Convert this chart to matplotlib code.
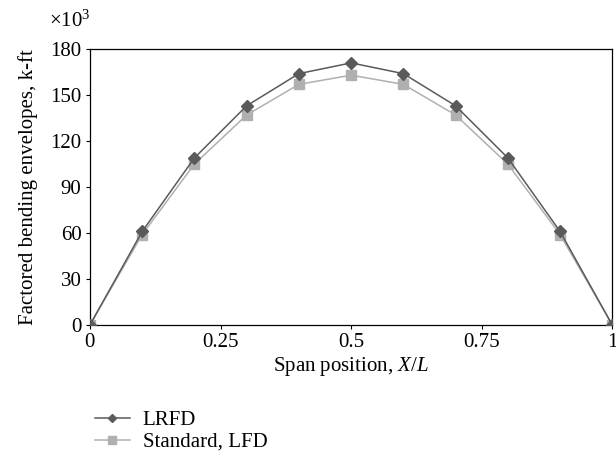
import numpy as np
import matplotlib.pyplot as plt

plt.rcParams['font.family'] = ['Liberation Serif', 'DejaVu Serif']
plt.rcParams['mathtext.fontset'] = 'custom'
plt.rcParams['mathtext.rm'] = 'Liberation Serif'
plt.rcParams['mathtext.it'] = 'Liberation Serif:italic'

# positions along span and envelopes (x 10^3 k-ft)
span = [0, 0.1, 0.2, 0.3, 0.4, 0.5, 0.6, 0.7, 0.8, 0.9, 1.0]
lrfd = [0, 61, 109, 143, 164, 171, 164, 143, 109, 61, 0]
lfd = [0, 59, 105, 137, 157, 163, 157, 137, 105, 59, 0]

fs = 15
fig = plt.figure(figsize=(6.16, 4.59), dpi=100)
ax = fig.add_axes([0.146, 0.292, 0.848, 0.601])

ax.plot(span, lrfd, color='#5a5a5a', lw=1.1, marker='D', ms=6.5,
        label='LRFD', zorder=3)
ax.plot(span, lfd, color='#b0b0b0', lw=1.1, marker='s', ms=7.5,
        label='Standard, LFD', zorder=2)

ax.set_xlim(0, 1)
ax.set_ylim(0, 180)
ax.set_xticks([0, 0.25, 0.5, 0.75, 1])
ax.set_xticklabels(['0', '0.25', '0.5', '0.75', '1'])
ax.set_yticks(np.arange(0, 181, 30))
ax.tick_params(direction='out', length=3, width=0.8, labelsize=fs, pad=3)
for s in ax.spines.values():
    s.set_linewidth(0.9)

ax.set_xlabel('Span position, $X/L$', fontsize=fs, labelpad=2)
ax.set_ylabel('Factored bending envelopes, k-ft', fontsize=fs)
ax.yaxis.set_label_coords(-0.1, 0.5)
ax.text(-0.079, 1.08, r'$\times$10$^3$', transform=ax.transAxes,
        fontsize=fs, ha='left', va='baseline')

leg = ax.legend(loc='upper left', bbox_to_anchor=(-0.007, -0.28),
                frameon=False, fontsize=fs, handlelength=1.7,
                labelspacing=0.1, handletextpad=0.6, borderaxespad=0,
                markerscale=0.7)

fig.savefig('out.png', dpi=100)
